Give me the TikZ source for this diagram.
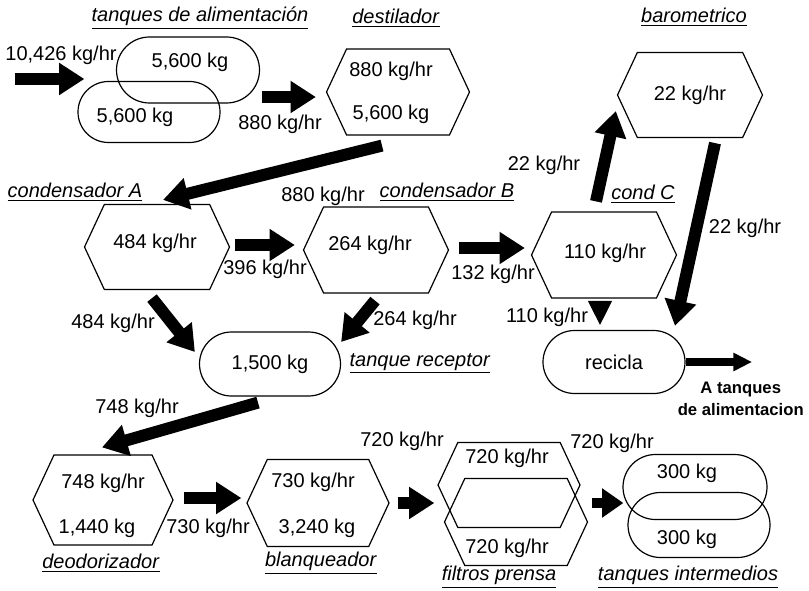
\documentclass[tikz,border=0pt]{standalone}
\usepackage{fontspec}
\setmainfont{Liberation Sans}
\usetikzlibrary{arrows.meta, calc, shapes.misc, shapes.symbols}

\def\px{0.75pt}
\newcommand\flowfont{\fontsize{15}{17}\selectfont}
\newcommand\ttl[1]{\underline{\textit{#1}}}

\tikzset{
  hexa/.style 2 args={draw, line width=0.9pt, signal, signal to=west and east,
    signal pointer angle=130, minimum width=#1*\px, minimum height=#2*\px, inner sep=0pt},
  tank/.style 2 args={draw, line width=0.9pt, rounded rectangle,
    minimum width=#1*\px, minimum height=#2*\px, inner sep=0pt},
  flow/.style={line width=9pt, -{Triangle[length=19pt,width=23pt]}},
  shortflow/.style={line width=8pt, -{Triangle[length=16pt,width=21pt]}},
  thinflow/.style={line width=5.5pt, -{Triangle[length=14pt,width=13pt]}},
  headonly/.style={line width=1pt, -{Triangle[length=18pt,width=18pt]}}
}

\begin{document}
\begin{tikzpicture}[x=\px, y=-\px, every node/.style={font=\flowfont}]
\useasboundingbox (0,0) rectangle (809,591);

% titles
\node (tTanks) at (200,18) {\ttl{tanques de alimentación}};
\node (tDestil) at (396,18) {\ttl{destilador}};
\node (tBaro) at (694,17) {\ttl{barometrico}};
\node (tCondA) at (75,192) {\ttl{condensador A}};
\node (tCondB) at (447,192) {\ttl{condensador B}};
\node (tCondC) at (643,194) {\ttl{cond C}};
\node (tRecept) at (420,363) {\ttl{tanque receptor}};
\node (tDeodo) at (101,563) {\ttl{deodorizador}};
\node (tBlanq) at (321,563) {\ttl{blanqueador}};
\node (tFiltros) at (499,577) {\ttl{filtros prensa}};
\node (tMid) at (688,577) {\ttl{tanques intermedios}};

% feed tanks and destilador
\node[tank={143}{66}] (feedTop) at (188,70) {};
\node[tank={142}{61}] (feedBot) at (149,112) {};
\node (feedTopTxt) at (190,62) {5,600 kg};
\node (feedBotTxt) at (135,117) {5,600 kg};
\node[hexa={143}{86}] (destil) at (398,92) {};
\node (destilRate) at (391,71) {880 kg/hr};
\node (destilMass) at (391,114) {5,600 kg};
\node[hexa={145}{85}] (baro) at (690,95) {22 kg/hr};

% condensers
\node[hexa={145}{85}] (condA) at (157,247) {};
\node (condATxt) at (155,243) {484 kg/hr};
\node[hexa={145}{86}] (condB) at (376,250) {};
\node (condBTxt) at (370,245) {264 kg/hr};
\node[hexa={145}{86}] (condC) at (604,255) {};
\node (condCTxt) at (605,253) {110 kg/hr};

% receiving tank and recycle
\node[tank={141}{64}] (recept) at (270,364) {1,500 kg};
\node[tank={142}{63}] (recicla) at (614,362) {recicla};
\coordinate (recOut) at (752,362);
\node[align=center, anchor=east, inner sep=0pt, font=\fontsize{12.5}{16}\selectfont\bfseries] (recDest) at (804,399) {A tanques\\de alimentacion};

% deodorizer, bleacher, filters, intermediate tanks
\node[hexa={140}{90}] (deodo) at (103,500) {};
\node (deodoRate) at (103,483) {748 kg/hr};
\node (deodoMass) at (97,528) {1,440 kg};
\node[hexa={142}{87}] (blanq) at (318,503) {};
\node (blanqRate) at (313,482) {730 kg/hr};
\node (blanqMass) at (317,528) {3,240 kg};
\node[hexa={142}{85}] (filtTop) at (509,485) {};
\node[hexa={143}{87}] (filtBot) at (516,522) {};
\node (filtTopTxt) at (507,458) {720 kg/hr};
\node (filtBotTxt) at (507,548) {720 kg/hr};
\node[tank={144}{65}] (midTop) at (695,487) {};
\node[tank={142}{65}] (midBot) at (699,525) {};
\node (midTopTxt) at (687,473) {300 kg};
\node (midBotTxt) at (687,539) {300 kg};

% flows
\coordinate (feedIn) at (15,79);
\draw[flow] (feedIn) -- ($(feedBot.west |- feedIn)+(7,0)$);
\draw[flow] ($(feedTop.east)+(2,27)$) -- ($(destil.west)+(-10,5)$);
\draw[flow] ($(destil.south)+(-16,10)$) -- ($(condA.north)+(6,-4)$);
\draw[flow] ($(condA.east)+(5,-2)$) -- ($(condB.west)+(-8,-5)$);
\draw[flow] ($(condB.east)+(10,-2)$) -- ($(condC.west)+(-6,-7)$);
\draw[flow] ($(condC.north)+(-8,-10)$) -- ($(baro.west)+(-1,16)$);
\draw[flow] ($(baro.south)+(25,5)$) -- ($(recicla.north)+(61,-4)$);
\draw[headonly] ($(condC.south)+(-4,3)$) -- ($(recicla.north)+(-14,-5)$);
\draw[thinflow] (recicla.east) -- (recOut);
\draw[flow] ($(condA.south)+(-5,8)$) -- ($(recept.west)+(-4,-12)$);
\draw[flow] ($(condB.south)+(-1,7)$) -- ($(recept.east)+(0,-22)$);
\draw[flow] ($(recept.south)+(-12,6)$) -- ($(deodo.north)+(-1,-7)$);
\draw[flow] ($(deodo.east)+(10,-2)$) -- ($(blanq.west)+(-5,-5)$);
\draw[flow] ($(blanq.east)+(8,0)$) -- ($(filtTop.west)+(-3,18)$);
\draw[shortflow] ($(filtBot.east)+(4,-19)$) -- ($(midTop.west)+(1,16)$);

% flow labels
\node (fFeed) at (61,55) {10,426 kg/hr};
\node (fDestil) at (280,124) {880 kg/hr};
\node (fCondA) at (323,196) {880 kg/hr};
\node (fCondB) at (265,269) {396 kg/hr};
\node (fCondC) at (493,274) {132 kg/hr};
\node (fBaro) at (544,165) {22 kg/hr};
\node (fBaroOut) at (745,228) {22 kg/hr};
\node (fCondCOut) at (547,317) {110 kg/hr};
\node (fRecA) at (113,323) {484 kg/hr};
\node (fRecB) at (415,320) {264 kg/hr};
\node (fDeodo) at (137,408) {748 kg/hr};
\node (fBlanq) at (208,528) {730 kg/hr};
\node (fFiltIn) at (402,441) {720 kg/hr};
\node (fFiltOut) at (612,443) {720 kg/hr};
\end{tikzpicture}
\end{document}
